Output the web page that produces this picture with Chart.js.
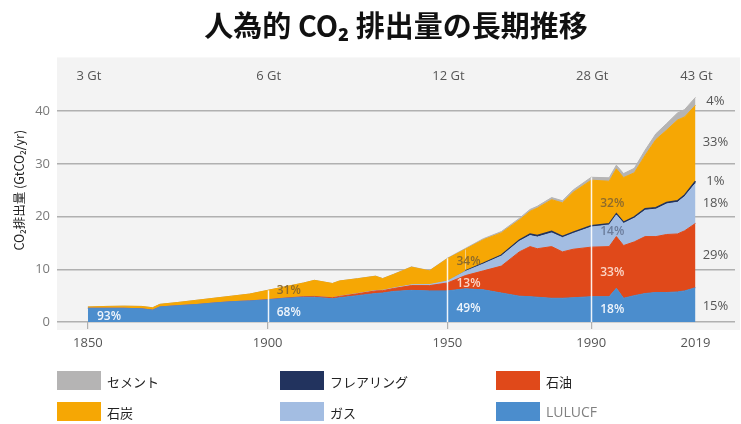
<!DOCTYPE html>
<html lang="ja">
<head>
<meta charset="utf-8">
<title>人為的 CO2 排出量の長期推移</title>
<script src="https://cdn.jsdelivr.net/npm/chart.js@4.4.1/dist/chart.umd.min.js"></script>
<style>
  html, body { margin: 0; padding: 0; background: #fff; }
  #wrap { position: relative; width: 741px; height: 424px; }
</style>
</head>
<body>
<div id="wrap"><canvas id="co2Chart"></canvas></div>
<script>
// 年（横軸）
const years = [1850,1855,1860,1865,1868,1870,1875,1880,1885,1890,1895,1900,1905,1910,1913,1918,1920,1925,1930,1932,1935,1940,1945,1950,1955,1960,1965,1970,1973,1975,1979,1982,1985,1990,1995,1997,1999,2002,2005,2008,2011,2014,2016,2019];

// 排出量 GtCO2/yr（積み上げ前の値）
const lulucf  = [2.6,2.6,2.6,2.5,2.25,2.85,3.1,3.3,3.6,3.85,4.0,4.2,4.5,4.7,4.7,4.4,4.6,5.0,5.4,5.5,5.8,6.0,5.9,5.9,6.3,6.1,5.5,4.9,4.8,4.7,4.5,4.5,4.6,4.8,4.8,6.4,4.5,5.0,5.4,5.6,5.6,5.7,5.9,6.5];
const oil     = [0,0,0,0,0,0,0,0,0,0,0,0.05,0.05,0.1,0.15,0.2,0.25,0.35,0.5,0.45,0.55,0.9,1.0,1.5,2.5,3.6,5.1,8.4,9.5,9.2,9.8,8.8,9.2,9.4,9.5,9.8,10.0,10.2,10.8,10.6,11.0,11.0,11.4,12.2];
const gas     = [0,0,0,0,0,0,0,0,0,0,0,0,0,0,0,0,0.03,0.05,0.07,0.07,0.1,0.15,0.2,0.35,0.8,1.3,1.9,2.0,2.1,2.2,2.6,2.7,3.0,3.8,4.1,4.1,4.2,4.5,5.0,5.2,5.8,6.0,6.5,7.6];
const flaring = [0,0,0,0,0,0,0,0,0,0,0,0,0,0,0,0,0,0,0,0,0,0,0,0.05,0.1,0.15,0.2,0.25,0.3,0.3,0.3,0.25,0.25,0.25,0.25,0.25,0.25,0.25,0.3,0.3,0.3,0.3,0.3,0.4];
const coal    = [0.25,0.35,0.4,0.45,0.45,0.5,0.6,0.8,0.9,1.05,1.3,1.75,2.15,2.6,3.05,2.7,2.9,2.8,2.7,2.2,2.55,3.35,2.6,4.2,4.1,4.45,4.2,3.8,4.3,5.2,6.0,6.35,7.55,8.65,8.05,8.5,8.45,8.35,10.1,12.9,13.7,15.3,14.8,14.4];
const cement  = [0,0,0,0,0,0,0,0,0,0,0,0,0,0,0,0,0,0.03,0.04,0.03,0.05,0.06,0.04,0.1,0.15,0.2,0.25,0.3,0.35,0.35,0.4,0.4,0.45,0.55,0.65,0.7,0.75,0.85,1.0,1.1,1.25,1.35,1.4,1.5];

// 目盛り
const xTicks = [1850, 1900, 1950, 1990, 2019];
const yTicks = [0, 10, 20, 30, 40];

// 上部の合計ラベル
const totalYears  = [1850, 1900, 1950, 1990, 2019];
const totalLabels = ['3 Gt', '6 Gt', '12 Gt', '28 Gt', '43 Gt'];

// 各年の割合ラベル [年, 高さ(Gt), 文字, 種類]
const shareLabels = [
  [1850, 1.0, '93%', 'lulucf'],
  [1900, 1.7, '68%', 'lulucf'],
  [1900, 5.9, '31%', 'coal'],
  [1950, 2.6, '49%', 'lulucf'],
  [1950, 7.3, '13%', 'oil'],
  [1950, 11.4, '34%', 'coal'],
  [1990, 2.3, '18%', 'lulucf'],
  [1990, 9.4, '33%', 'oil'],
  [1990, 17.1, '14%', 'gas'],
  [1990, 22.4, '32%', 'coal']
];
// 2019年の割合（右側）
const endShares = [[41.8, '4%'], [34.0, '33%'], [26.6, '1%'], [22.5, '18%'], [12.7, '29%'], [3.0, '15%']];

const JP = "'Noto Sans CJK JP', 'Noto Sans', sans-serif";
const LAT = "'Open Sans', 'Noto Sans', sans-serif";
const NAVY = '#22335e';

const series = [
  { label: 'LULUCF', data: lulucf, color: '#4b8dcd' },
  { label: '石油', data: oil, color: '#e0491a' },
  { label: 'ガス', data: gas, color: '#a3bde2' },
  { label: 'フレアリング', data: flaring, color: NAVY },
  { label: '石炭', data: coal, color: '#f6a704' },
  { label: 'セメント', data: cement, color: '#b5b4b4' }
];
const legendOrder = ['セメント', 'フレアリング', '石油', '石炭', 'ガス', 'LULUCF'];
const labelColors = { lulucf: '#eef4fb', oil: '#fbd5c6', coal: '#8d6b2c', gas: '#6c7d9c' };

const totalAt = (i) => series.reduce((s, d) => s + d.data[i], 0);

const decor = {
  id: 'decor',
  beforeDraw(chart) {
    const { ctx, chartArea: a } = chart;
    ctx.save();
    ctx.fillStyle = '#ffffff';
    ctx.fillRect(0, 0, chart.width, chart.height);
    ctx.fillStyle = '#f3f3f3';
    ctx.fillRect(a.left, a.top - 1, a.right - a.left + 5, a.bottom - a.top + 9);
    ctx.restore();
  },
  afterDatasetsDraw(chart) {
    const { ctx, scales: { x, y } } = chart;
    ctx.save();
    // 白い縦線
    ctx.strokeStyle = 'rgba(255,255,255,0.9)';
    ctx.lineWidth = 1.5;
    [1900, 1950, 1990].forEach(yr => {
      const i = years.indexOf(yr);
      const px = Math.round(x.getPixelForValue(yr)) + 0.5;
      ctx.beginPath();
      ctx.moveTo(px, y.getPixelForValue(0));
      ctx.lineTo(px, y.getPixelForValue(totalAt(i)));
      ctx.stroke();
    });
    // 割合ラベル
    ctx.font = `600 12px ${LAT}`;
    ctx.textBaseline = 'middle';
    ctx.textAlign = 'left';
    shareLabels.forEach(([yr, v, t, k]) => {
      ctx.fillStyle = labelColors[k];
      ctx.fillText(t, x.getPixelForValue(yr) + 9, y.getPixelForValue(v));
    });
    ctx.restore();
  },
  afterDraw(chart) {
    const { ctx, scales: { x, y } } = chart;
    ctx.save();
    ctx.textBaseline = 'middle';
    // 合計
    ctx.font = `13px ${LAT}`;
    ctx.fillStyle = '#555';
    ctx.textAlign = 'center';
    totalYears.forEach((yr, i) => {
      ctx.fillText(totalLabels[i], x.getPixelForValue(yr) + 1, y.getPixelForValue(46.7));
    });
    // 右側の割合
    ctx.font = `13px ${LAT}`;
    endShares.forEach(([v, t]) => {
      ctx.fillText(t, x.getPixelForValue(2019) + 20, y.getPixelForValue(v));
    });
    // 凡例
    const cols = [57, 280, 496];
    const rows = [371, 402];
    legendOrder.forEach((name, n) => {
      const s = series.find(d => d.label === name);
      const lx = cols[n % 3], ly = rows[Math.floor(n / 3)];
      ctx.fillStyle = s.color;
      ctx.fillRect(lx, ly, 44, 19);
      ctx.textAlign = 'left';
      if (name === 'LULUCF') {
        ctx.font = `14px ${LAT}`;
        ctx.fillStyle = '#808080';
      } else {
        ctx.font = `13px ${JP}`;
        ctx.fillStyle = '#222';
      }
      ctx.fillText(name, lx + 50, ly + 11);
    });
    ctx.restore();
  }
};

new Chart(document.getElementById('co2Chart'), {
  type: 'line',
  data: {
    datasets: series.map((s, i) => ({
      label: s.label,
      data: years.map((yr, k) => ({ x: yr, y: s.data[k] })),
      backgroundColor: s.color,
      borderColor: s.color,
      borderWidth: s.label === 'フレアリング' ? 1.4 : 1,
      segment: s.label === 'フレアリング'
        ? { borderColor: c => (c.p0.parsed.x >= 1955 ? NAVY : 'rgba(0,0,0,0)') }
        : undefined,
      pointRadius: 0,
      pointHoverRadius: 0,
      tension: 0,
      fill: i === 0 ? 'origin' : '-1'
    }))
  },
  options: {
    responsive: true,
    maintainAspectRatio: false,
    animation: false,
    events: [],
    layout: { padding: { top: 0, right: 6, bottom: 0, left: 0 } },
    scales: {
      x: {
        type: 'linear',
        min: 1841.4,
        max: 2030,
        afterBuildTicks: s => { s.ticks = xTicks.map(v => ({ value: v })); },
        afterFit: s => { s.height = 102; },
        ticks: {
          autoSkip: false,
          maxRotation: 0,
          padding: 6,
          color: '#555',
          font: { family: LAT, size: 13 },
          callback: v => String(v)
        },
        grid: {
          drawOnChartArea: false,
          tickLength: 7,
          lineWidth: 1.2,
          color: c => (c.tick && c.tick.value === 2019 ? 'rgba(0,0,0,0)' : '#b0b0b0')
        },
        border: { display: false }
      },
      y: {
        stacked: true,
        min: 0,
        max: 50,
        afterBuildTicks: s => { s.ticks = yTicks.map(v => ({ value: v })); },
        afterFit: s => { s.width = 57; },
        ticks: {
          padding: 7,
          color: '#7a7a7a',
          font: { family: LAT, size: 13 }
        },
        grid: { drawTicks: false, color: '#b0b0b0', lineWidth: 1.5 },
        border: { display: false },
        title: {
          display: true,
          text: 'CO₂排出量 (GtCO₂/yr)',
          color: '#222',
          font: { family: JP, size: 12.5 },
          padding: { top: 12, bottom: 0 }
        }
      }
    },
    plugins: {
      legend: { display: false },
      tooltip: { enabled: false },
      title: {
        display: true,
        text: '人為的 CO₂ 排出量の長期推移',
        fullSize: false,
        color: '#111',
        font: { family: JP, size: 29, weight: 'bold' },
        padding: { top: 9, bottom: 14.6 }
      }
    }
  },
  plugins: [decor]
});
</script>
</body>
</html>
